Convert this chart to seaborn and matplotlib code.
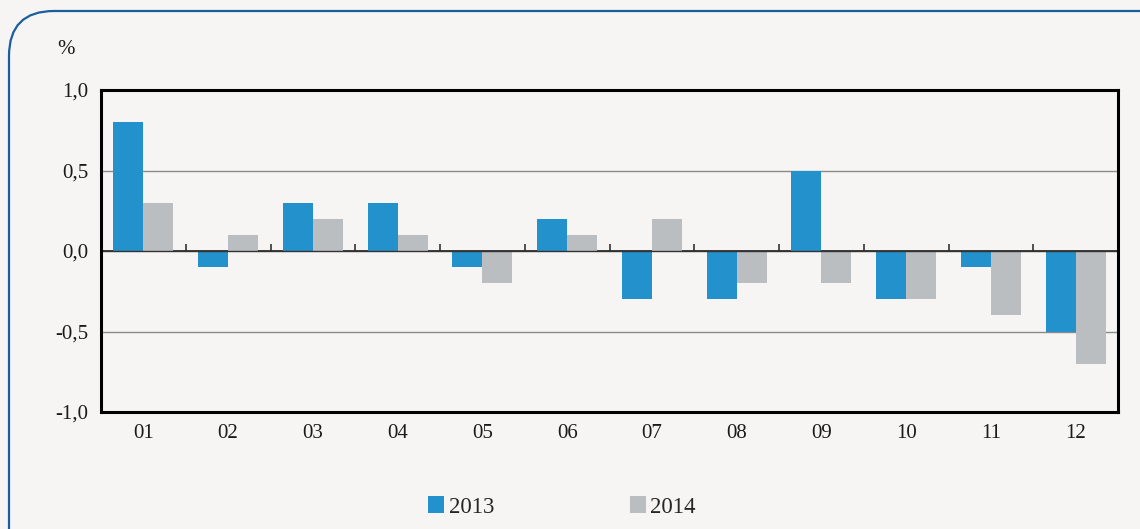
import matplotlib
matplotlib.use("Agg")
import matplotlib.pyplot as plt
import matplotlib.transforms as mtransforms
import seaborn as sns
import pandas as pd
from matplotlib.patches import FancyBboxPatch

months = ["01", "02", "03", "04", "05", "06", "07", "08", "09", "10", "11", "12"]
v2013 = [0.8, -0.1, 0.3, 0.3, -0.1, 0.2, -0.3, -0.3, 0.5, -0.3, -0.1, -0.5]
v2014 = [0.3, 0.1, 0.2, 0.1, -0.2, 0.1, 0.2, -0.2, -0.2, -0.3, -0.4, -0.7]
series = ["2013", "2014"]
colors = ["#2391cc", "#bbbec1"]
yticks = [-1.0, -0.5, 0.0, 0.5, 1.0]
ytick_labels = ["-1,0", "-0,5", "0,0", "0,5", "1,0"]

df = pd.DataFrame({
    "month": months * 2,
    "value": v2013 + v2014,
    "year": [series[0]] * len(months) + [series[1]] * len(months),
})

sns.set_theme(style="white")
plt.rcParams["font.family"] = ["Liberation Serif", "DejaVu Serif"]
bg = "#f6f5f3"

fig = plt.figure(figsize=(11.4, 5.29), dpi=100)
fig.patch.set_facecolor(bg)

# rounded border (pixel coordinates)
border = FancyBboxPatch((9, -60), 1200, 529 - 11 + 60,
                        boxstyle="round,pad=0,rounding_size=45",
                        transform=mtransforms.IdentityTransform(), facecolor="none",
                        edgecolor="#1b5e9e", linewidth=1.6)
fig.patches.append(border)

ax = fig.add_axes([101 / 1140, 1 - 412 / 529, (1118 - 101) / 1140, (412 - 90) / 529])
ax.set_facecolor(bg)

sns.barplot(data=df, x="month", y="value", hue="year", order=months,
            hue_order=series, palette=colors, width=0.71, gap=0,
            saturation=1, ax=ax, edgecolor="none", linewidth=0, zorder=3,
            legend=True)

ax.set_ylim(-1.0, 1.0)
ax.set_xlim(-0.5, len(months) - 0.5)
ax.set_yticks(yticks)
ax.set_yticklabels(ytick_labels, fontsize=15, color="#1a1a1a")
ax.set_xlabel("")
ax.set_ylabel("")
ax.tick_params(axis="x", length=0, pad=9, labelsize=15, labelcolor="#1a1a1a")
ax.tick_params(axis="y", length=5, width=1, color="#777777", direction="out", pad=4)

for y in [0.5, -0.5]:
    ax.axhline(y, color="#8a8a8a", linewidth=1.0, zorder=1)
ax.axhline(0, color="#333333", linewidth=1.0, zorder=4)

for sp in ax.spines.values():
    sp.set_visible(True)
    sp.set_color("black")
    sp.set_linewidth(2.2)
    sp.set_zorder(5)

# category-boundary tick marks on the zero line
sec = ax.secondary_xaxis(0.5)
sec.set_xticks([i + 0.5 for i in range(len(months) - 1)])
sec.set_xticklabels([])
sec.tick_params(axis="x", length=5, width=1.2, color="#333333", direction="out")
sec.spines["bottom"].set_visible(False)

fig.text(66 / 1140, 1 - 50 / 529, "%", fontsize=15, color="#1a1a1a", ha="center", va="center")

handles, labels = ax.get_legend_handles_labels()
ax.legend_.remove()
fig.legend(handles, labels, loc="center", bbox_to_anchor=(562 / 1140, 1 - 507 / 529),
           ncol=2, frameon=False, fontsize=16.5, handlelength=0.7, handleheight=0.7,
           handletextpad=0.2, columnspacing=5.9)

fig.savefig("out.png", dpi=100, facecolor=bg)
